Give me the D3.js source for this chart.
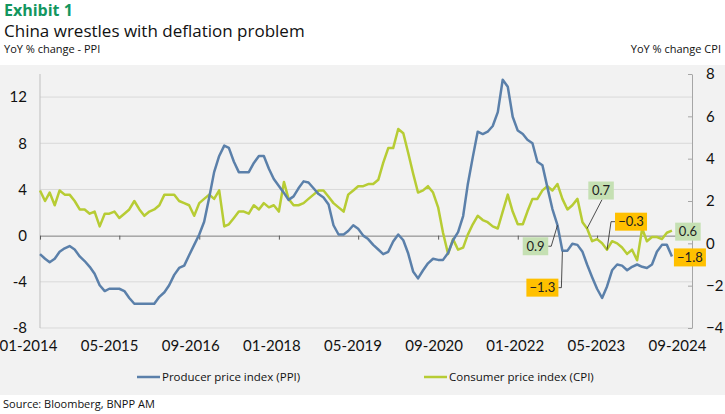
<!DOCTYPE html>
<html>
<head>
<meta charset="utf-8">
<script src="https://cdn.jsdelivr.net/npm/d3@7"></script>
<style>
  body { margin: 0; background: #fff; }
  svg { display: block; }
  text { font-family: "Open Sans", sans-serif; }
</style>
</head>
<body>
<svg id="chart" width="725" height="414"></svg>
<script>
// China YoY % change, monthly, 01-2014 .. 08-2024
var startMonth = '01-2014';
var ppi = [
  -1.6, -2.0, -2.3, -2.0, -1.4, -1.1, -0.9, -1.2, -1.8, -2.2, -2.7, -3.3,
  -4.3, -4.8, -4.6, -4.6, -4.6, -4.8, -5.4, -5.9, -5.9, -5.9, -5.9, -5.9,
  -5.3, -4.9, -4.3, -3.4, -2.8, -2.6, -1.7, -0.8, 0.1, 1.2, 3.3, 5.5,
  6.9, 7.8, 7.6, 6.4, 5.5, 5.5, 5.5, 6.3, 6.9, 6.9, 5.8, 4.9,
  4.3, 3.7, 3.1, 3.4, 4.1, 4.7, 4.6, 4.1, 3.6, 3.3, 2.7, 0.9,
  0.1, 0.1, 0.4, 0.9, 0.6, 0.0, -0.3, -0.8, -1.2, -1.6, -1.4, -0.5,
  0.1, -0.4, -1.5, -3.1, -3.7, -3.0, -2.4, -2.0, -2.1, -2.1, -1.5, -0.4,
  0.3, 1.7, 4.4, 6.8, 9.0, 8.8, 9.0, 9.5, 10.7, 13.5, 12.9, 10.3,
  9.1, 8.8, 8.3, 8.0, 6.4, 6.1, 4.2, 2.3, 0.9, -1.3, -1.3, -0.7,
  -0.8, -1.4, -2.5, -3.6, -4.6, -5.4, -4.4, -3.0, -2.5, -2.6, -3.0, -2.7,
  -2.5, -2.7, -2.8, -2.5, -1.4, -0.8, -0.8, -1.8
];
var cpi = [
  2.5, 2.0, 2.4, 1.8, 2.5, 2.3, 2.3, 2.0, 1.6, 1.6, 1.4, 1.5,
  0.8, 1.4, 1.4, 1.5, 1.2, 1.4, 1.6, 2.0, 1.6, 1.3, 1.5, 1.6,
  1.8, 2.3, 2.3, 2.3, 2.0, 1.9, 1.8, 1.3, 1.9, 2.1, 2.3, 2.1,
  2.5, 0.8, 0.9, 1.2, 1.5, 1.5, 1.4, 1.8, 1.6, 1.9, 1.7, 1.8,
  1.5, 2.9, 2.1, 1.8, 1.8, 1.9, 2.1, 2.3, 2.5, 2.5, 2.2, 1.9,
  1.7, 1.5, 2.3, 2.5, 2.7, 2.7, 2.8, 2.8, 3.0, 3.8, 4.5, 4.5,
  5.4, 5.2, 4.3, 3.3, 2.4, 2.5, 2.7, 2.4, 1.7, 0.5, -0.5, 0.2,
  -0.3, -0.2, 0.4, 0.9, 1.3, 1.1, 1.0, 0.8, 0.7, 1.5, 2.3, 1.5,
  0.9, 0.9, 1.5, 2.1, 2.1, 2.5, 2.7, 2.5, 2.8, 2.1, 1.6, 1.8,
  2.1, 1.0, 0.7, 0.1, 0.2, 0.0, -0.3, 0.1, 0.0, -0.2, -0.5, -0.3,
  -0.8, 0.7, 0.1, 0.3, 0.3, 0.2, 0.5, 0.6
];
var xTickLabels = ['01-2014', '05-2015', '09-2016', '01-2018', '05-2019',
                   '09-2020', '01-2022', '05-2023', '09-2024'];
var leftTicks = [-8, -4, 0, 4, 8, 12];
var rightTicks = [-4, -2, 0, 2, 4, 6, 8];
// highlighted readings: series, month, value
var callouts = [
  {series: 'ppi', month: '09-2022', value: 0.9},
  {series: 'ppi', month: '10-2022', value: -1.3},
  {series: 'cpi', month: '03-2023', value: 0.7},
  {series: 'cpi', month: '07-2023', value: -0.3},
  {series: 'cpi', month: '08-2024', value: 0.6},
  {series: 'ppi', month: '08-2024', value: -1.8}
];

var parseMonth = d3.timeParse('%m-%Y');
var t0 = parseMonth(startMonth);
var months = ppi.map(function (d, i) { return d3.timeMonth.offset(t0, i); });

var svg = d3.select('#chart');
var W = 725, H = 414;
var plot = {left: 40, right: 692, top: 74, bottom: 328};

var x = d3.scaleTime()
  .domain([parseMonth(xTickLabels[0]), parseMonth(xTickLabels[xTickLabels.length - 1])])
  .range([plot.left, 677]);
var yL = d3.scaleLinear().domain([-8, 14]).range([plot.bottom, plot.top]);
var yR = d3.scaleLinear().domain([-4, 8]).range([plot.bottom, plot.top]);
var labelX = d3.scalePoint().domain(xTickLabels).range([28, 677]);

// header
svg.append('text').attr('x', 4).attr('y', 16)
  .style('font-size', '16px').style('font-weight', 700).style('fill', '#13965f')
  .text('Exhibit 1');
svg.append('text').attr('x', 4).attr('y', 37)
  .style('font-size', '17px').style('fill', '#111')
  .text('China wrestles with deflation problem');
svg.append('text').attr('x', 4).attr('y', 53)
  .style('font-size', '11px').style('fill', '#111')
  .text('YoY % change - PPI');
svg.append('text').attr('x', 721).attr('y', 53).attr('text-anchor', 'end')
  .style('font-size', '11px').style('fill', '#111')
  .text('YoY % change CPI');

// grey panel
svg.append('rect').attr('x', 0).attr('y', 65).attr('width', W).attr('height', 330)
  .attr('fill', '#f2f2f2');

// gridlines
svg.append('g').selectAll('line')
  .data(leftTicks.filter(function (d) { return d !== 0; }))
  .join('line')
  .attr('x1', plot.left).attr('x2', plot.right)
  .attr('y1', function (d) { return yL(d); }).attr('y2', function (d) { return yL(d); })
  .attr('stroke', '#d9d9d9').attr('stroke-width', 1);

// left axis
var gL = svg.append('g').attr('transform', 'translate(' + plot.left + ',0)');
gL.append('line').attr('y1', yL(14)).attr('y2', yL(-8)).attr('stroke', '#bfbfbf');
gL.selectAll('text').data(leftTicks).join('text')
  .attr('x', -13).attr('y', function (d) { return yL(d); }).attr('dy', '0.36em')
  .attr('text-anchor', 'end')
  .style('font-family', 'Lato, sans-serif').style('font-size', '15px').style('fill', '#111')
  .text(function (d) { return d; });

// right axis
var gR = svg.append('g').attr('transform', 'translate(' + plot.right + ',0)')
  .call(d3.axisRight(yR).tickValues(rightTicks).tickSize(0).tickPadding(14));
gR.select('.domain').attr('stroke', '#a6a6a6');
gR.selectAll('.tick line').attr('x2', -4).attr('stroke', '#a6a6a6');
gR.selectAll('text').style('font-family', 'Lato, sans-serif').style('font-size', '15px').style('fill', '#111');

// x axis at PPI zero
var gX = svg.append('g').attr('transform', 'translate(0,' + yL(0) + ')')
  .call(d3.axisBottom(x).tickValues(xTickLabels.map(parseMonth)).tickSize(4).tickSizeOuter(0)
    .tickFormat(d3.timeFormat('%m-%Y')));
gX.select('.domain').attr('stroke', '#7f7f7f');
gX.selectAll('.tick line').attr('stroke', '#595959');
gX.selectAll('.tick text')
  .attr('x', function (d) { return labelX(d3.timeFormat('%m-%Y')(d)) - x(d); })
  .attr('y', yL(-8) - yL(0) + 12).attr('dy', '0.71em')
  .style('font-family', 'Lato, sans-serif').style('font-size', '15px').style('fill', '#111');

// lines
var linePPI = d3.line().x(function (d, i) { return x(months[i]); }).y(function (d) { return yL(d); });
var lineCPI = d3.line().x(function (d, i) { return x(months[i]); }).y(function (d) { return yR(d); });
svg.append('path').datum(cpi).attr('d', lineCPI)
  .attr('fill', 'none').attr('stroke', '#b7cc34').attr('stroke-width', 2.5).attr('stroke-linejoin', 'round');
svg.append('path').datum(ppi).attr('d', linePPI)
  .attr('fill', 'none').attr('stroke', '#5b80aa').attr('stroke-width', 2.5).attr('stroke-linejoin', 'round');

// callouts
var offsets = [
  {dx: -22, dy: 21, lead: 'h'},
  {dx: -20, dy: 37, lead: 'v'},
  {dx: 14, dy: -38, lead: 'd'},
  {dx: 24, dy: -28, lead: 'v2'},
  {dx: 16, dy: 1, lead: null},
  {dx: 18, dy: 1, lead: null}
];
var gC = svg.append('g');
callouts.forEach(function (c, i) {
  var px = x(parseMonth(c.month));
  var py = c.series === 'ppi' ? yL(c.value) : yR(c.value);
  var o = offsets[i];
  var cx = px + o.dx, cy = py + o.dy;
  var label = d3.format('.1f')(c.value);
  var bw = label.length * 6.5 + 6, bh = 18;
  var pos = c.value >= 0;
  if (o.lead === 'h') {
    gC.append('path').attr('d', 'M' + px + ',' + py + 'L' + (cx + bw / 2 + 3) + ',' + cy + 'H' + (cx + bw / 2))
      .attr('fill', 'none').attr('stroke', '#222').attr('stroke-width', 0.8);
  } else if (o.lead === 'v') {
    gC.append('path').attr('d', 'M' + px + ',' + (py + 1) + 'L' + (px - 1) + ',' + cy + 'H' + (cx + bw / 2))
      .attr('fill', 'none').attr('stroke', '#222').attr('stroke-width', 0.8);
  } else if (o.lead === 'd') {
    gC.append('path').attr('d', 'M' + px + ',' + py + 'L' + (cx + 1) + ',' + (cy + bh / 2))
      .attr('fill', 'none').attr('stroke', '#222').attr('stroke-width', 0.8);
  } else if (o.lead === 'v2') {
    gC.append('path').attr('d', 'M' + px + ',' + py + 'L' + (px + 4) + ',' + cy + 'H' + (cx - bw / 2))
      .attr('fill', 'none').attr('stroke', '#222').attr('stroke-width', 0.8);
  }
  gC.append('rect').attr('x', cx - bw / 2).attr('y', cy - bh / 2).attr('width', bw).attr('height', bh)
    .attr('fill', pos ? '#c5e0b3' : '#ffc000');
  gC.append('text').attr('x', cx).attr('y', cy).attr('dy', '0.36em').attr('text-anchor', 'middle')
    .style('font-family', 'Lato, sans-serif').style('font-size', '13px').style('fill', '#222')
    .text(label);
});

// legend
var legend = [
  {name: 'Producer price index (PPI)', color: '#5b80aa', x: 137},
  {name: 'Consumer price index (CPI)', color: '#b7cc34', x: 424}
];
var gLeg = svg.append('g').attr('transform', 'translate(0,377)');
legend.forEach(function (d) {
  gLeg.append('line').attr('x1', d.x).attr('x2', d.x + 23).attr('stroke', d.color).attr('stroke-width', 2.5);
  gLeg.append('text').attr('x', d.x + 25).attr('dy', '0.36em')
    .style('font-size', '11.5px').style('fill', '#111').text(d.name);
});

svg.append('text').attr('x', 3).attr('y', 408)
  .style('font-size', '11px').style('fill', '#111')
  .text('Source: Bloomberg, BNPP AM');
</script>
</body>
</html>
